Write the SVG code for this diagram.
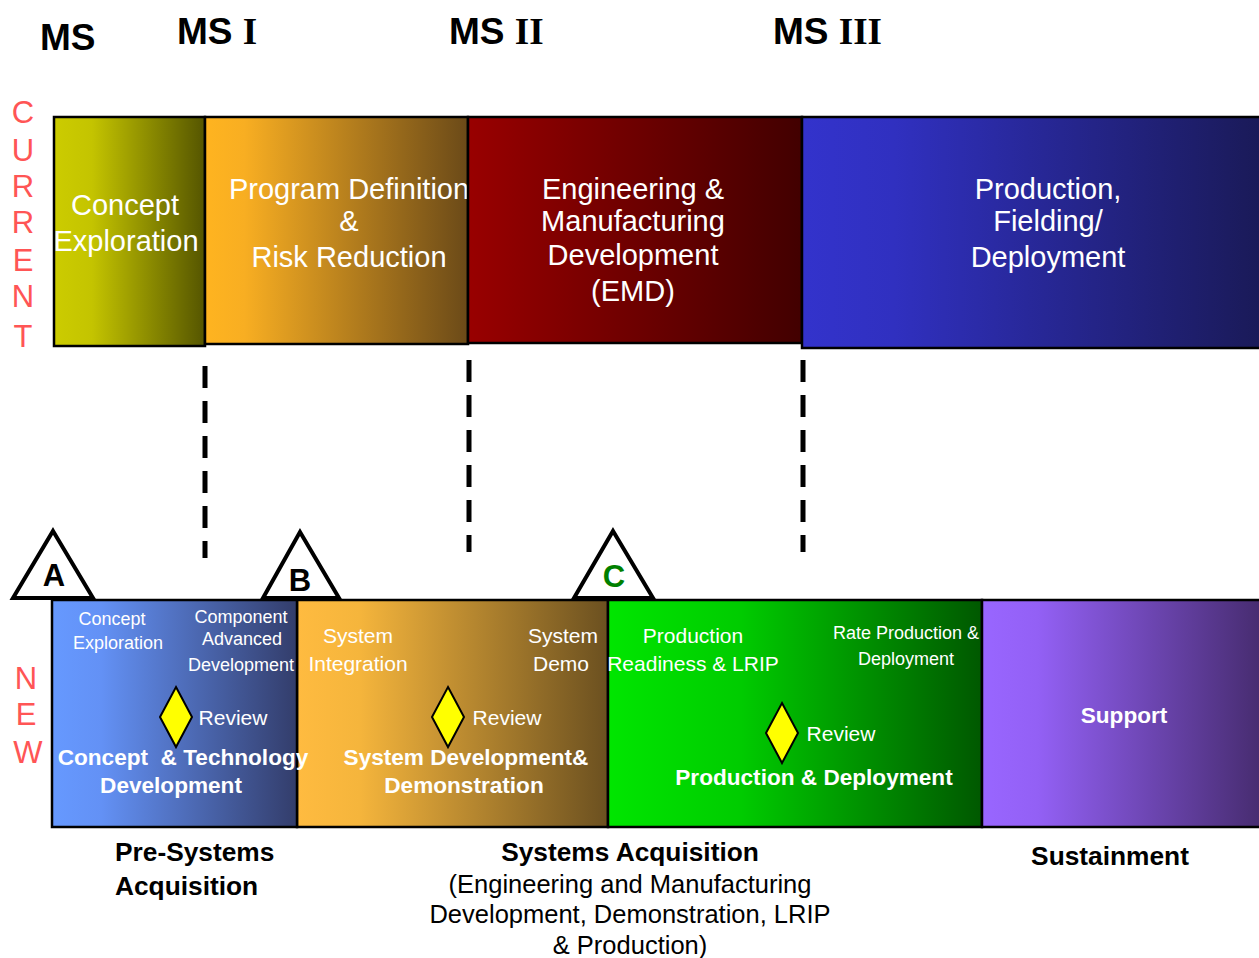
<svg xmlns="http://www.w3.org/2000/svg" width="1259" height="958" viewBox="0 0 1259 958">
<defs>
<linearGradient id="gCE" x1="0" y1="0" x2="1" y2="0"><stop offset="0" stop-color="#cccc00"/><stop offset="0.25" stop-color="#c4c400"/><stop offset="1" stop-color="#555500"/></linearGradient>
<linearGradient id="gPD" x1="0" y1="0" x2="1" y2="0"><stop offset="0" stop-color="#ffb420"/><stop offset="0.15" stop-color="#f8ae22"/><stop offset="1" stop-color="#6b4a18"/></linearGradient>
<linearGradient id="gEMD" x1="0" y1="0" x2="1" y2="0"><stop offset="0" stop-color="#990000"/><stop offset="1" stop-color="#420000"/></linearGradient>
<linearGradient id="gPF" x1="0" y1="0" x2="1" y2="0"><stop offset="0" stop-color="#3333cc"/><stop offset="0.2" stop-color="#3030c0"/><stop offset="1" stop-color="#1a1a58"/></linearGradient>
<linearGradient id="gCT" x1="0" y1="0" x2="1" y2="0"><stop offset="0" stop-color="#6699ff"/><stop offset="0.2" stop-color="#6391f5"/><stop offset="1" stop-color="#333d6b"/></linearGradient>
<linearGradient id="gSD" x1="0" y1="0" x2="1" y2="0"><stop offset="0" stop-color="#ffbb40"/><stop offset="0.2" stop-color="#f5b53c"/><stop offset="1" stop-color="#6b5020"/></linearGradient>
<linearGradient id="gPDp" x1="0" y1="0" x2="1" y2="0"><stop offset="0" stop-color="#00e600"/><stop offset="0.35" stop-color="#00cc00"/><stop offset="1" stop-color="#005800"/></linearGradient>
<linearGradient id="gSU" x1="0" y1="0" x2="1" y2="0"><stop offset="0" stop-color="#9966ff"/><stop offset="0.2" stop-color="#9360f5"/><stop offset="1" stop-color="#472c70"/></linearGradient>
</defs>
<style>
.box{stroke:#000;stroke-width:2.5}
.wt{fill:#fff;font-family:"Liberation Sans",Arial,sans-serif;text-anchor:middle}
.big{font-size:29px}
.sm{font-size:18px}
.md{font-size:21px}
.bd{font-weight:bold;font-size:22.6px}
.lbl{font-family:"Liberation Sans",Arial,sans-serif;fill:#000;font-size:25.5px}
.lb{font-weight:bold;font-size:26.3px}
.ms{font-family:"Liberation Sans",Arial,sans-serif;font-weight:bold;font-size:37px;fill:#000}
.rom{font-family:"Liberation Serif","Times New Roman",serif;font-weight:bold}
.red{font-family:"Liberation Sans",Arial,sans-serif;fill:#ff5555;font-size:31px;text-anchor:middle}
.dash{stroke:#000;stroke-width:5;stroke-dasharray:22 13;fill:none}
.tri{fill:#fff;stroke:#000;stroke-width:4;stroke-linejoin:miter}
.tl{font-family:"Liberation Sans",Arial,sans-serif;font-weight:bold;font-size:31px;text-anchor:middle}
.dia{fill:#ffff00;stroke:#000;stroke-width:2}
</style>

<g id="milestones">
<text class="ms" x="40" y="50">MS</text>
<text class="ms" x="177" y="44">MS <tspan class="rom">I</tspan></text>
<text class="ms" x="449" y="44">MS <tspan class="rom">II</tspan></text>
<text class="ms" x="773" y="44">MS <tspan class="rom">III</tspan></text>
</g>

<g id="current-label">
<text class="red" x="23" y="123">C</text>
<text class="red" x="23" y="161">U</text>
<text class="red" x="23" y="197">R</text>
<text class="red" x="23" y="233">R</text>
<text class="red" x="23" y="271">E</text>
<text class="red" x="23" y="307">N</text>
<text class="red" x="23" y="347">T</text>
</g>

<g id="new-label">
<text class="red" x="26" y="689">N</text>
<text class="red" x="26" y="725">E</text>
<text class="red" x="28" y="763">W</text>
</g>

<g id="concept-exploration">
<rect class="box" x="54" y="117" width="151" height="229" fill="url(#gCE)"/>
<text class="wt big" x="125" y="215">Concept</text>
<text class="wt big" x="126" y="251">Exploration</text>
</g>
<g id="program-definition">
<rect class="box" x="205" y="117" width="263" height="227" fill="url(#gPD)"/>
<text class="wt big" x="349" y="199">Program Definition</text>
<text class="wt big" x="349" y="231">&amp;</text>
<text class="wt big" x="349" y="267">Risk Reduction</text>
</g>
<g id="emd">
<rect class="box" x="468" y="117" width="334" height="226" fill="url(#gEMD)"/>
<text class="wt big" x="633" y="199">Engineering &amp;</text>
<text class="wt big" x="633" y="231">Manufacturing</text>
<text class="wt big" x="633" y="265">Development</text>
<text class="wt big" x="633" y="301">(EMD)</text>
</g>
<g id="production-fielding">
<rect class="box" x="802" y="117" width="459" height="231" fill="url(#gPF)"/>
<text class="wt big" x="1048" y="199">Production,</text>
<text class="wt big" x="1048" y="231">Fielding/</text>
<text class="wt big" x="1048" y="267">Deployment</text>
</g>

<g id="connectors">
<line class="dash" x1="205" y1="366" x2="205" y2="558"/>
<line class="dash" x1="469" y1="360" x2="469" y2="552"/>
<line class="dash" x1="803" y1="360" x2="803" y2="552"/>
</g>

<g id="milestone-A">
<polygon class="tri" points="53,531 93,598 13,598"/>
<text class="tl" x="54" y="586" fill="#000">A</text>
</g>
<g id="milestone-B">
<polygon class="tri" points="300,532 339,598 263,598"/>
<text class="tl" x="300" y="591" fill="#000">B</text>
</g>
<g id="milestone-C">
<polygon class="tri" points="613,531 653,598 574,598"/>
<text class="tl" x="614" y="587" fill="#008000">C</text>
</g>

<g id="system-development">
<rect class="box" x="297" y="600" width="311" height="227" fill="url(#gSD)"/>
<text class="wt md" x="358" y="643">System</text>
<text class="wt md" x="358" y="671">Integration</text>
<text class="wt md" x="563" y="643">System</text>
<text class="wt md" x="561" y="671">Demo</text>
<polygon class="dia" points="448,687 464,717 448,747 432,717"/>
<text class="wt md" x="507" y="725">Review</text>
<text class="wt bd" x="466" y="765">System Development&amp;</text>
<text class="wt bd" x="464" y="793">Demonstration</text>
</g>

<g id="concept-technology">
<rect class="box" x="52" y="600" width="245" height="227" fill="url(#gCT)"/>
<text class="wt sm" x="112" y="625">Concept</text>
<text class="wt sm" x="118" y="649">Exploration</text>
<text class="wt sm" x="241" y="623">Component</text>
<text class="wt sm" x="242" y="645">Advanced</text>
<text class="wt sm" x="241" y="671">Development</text>
<polygon class="dia" points="176,687 192,717 176,747 160,717"/>
<text class="wt md" x="233" y="725">Review</text>
<text class="wt bd" x="183" y="765" style="white-space:pre">Concept  &amp; Technology</text>
<text class="wt bd" x="171" y="793">Development</text>
</g>

<g id="production-deployment">
<rect class="box" x="608" y="600" width="374" height="227" fill="url(#gPDp)"/>
<text class="wt md" x="693" y="643">Production</text>
<text class="wt md" x="693" y="671">Readiness &amp; LRIP</text>
<text class="wt sm" x="906" y="639">Rate Production &amp;</text>
<text class="wt sm" x="906" y="665">Deployment</text>
<polygon class="dia" points="782,703 798,733 782,763 766,733"/>
<text class="wt md" x="841" y="741">Review</text>
<text class="wt bd" x="814" y="785">Production &amp; Deployment</text>
</g>

<g id="support">
<rect class="box" x="982" y="600" width="279" height="227" fill="url(#gSU)"/>
<text class="wt bd" x="1124" y="723">Support</text>
</g>

<g id="phase-labels">
<text class="lbl lb" x="115" y="861">Pre-Systems</text>
<text class="lbl lb" x="115" y="895">Acquisition</text>
<text class="lbl lb" x="630" y="861" text-anchor="middle">Systems Acquisition</text>
<text class="lbl" x="630" y="893" text-anchor="middle">(Engineering and Manufacturing</text>
<text class="lbl" x="630" y="923" text-anchor="middle">Development, Demonstration, LRIP</text>
<text class="lbl" x="630" y="954" text-anchor="middle">&amp; Production)</text>
<text class="lbl lb" x="1110" y="865" text-anchor="middle">Sustainment</text>
</g>
</svg>
